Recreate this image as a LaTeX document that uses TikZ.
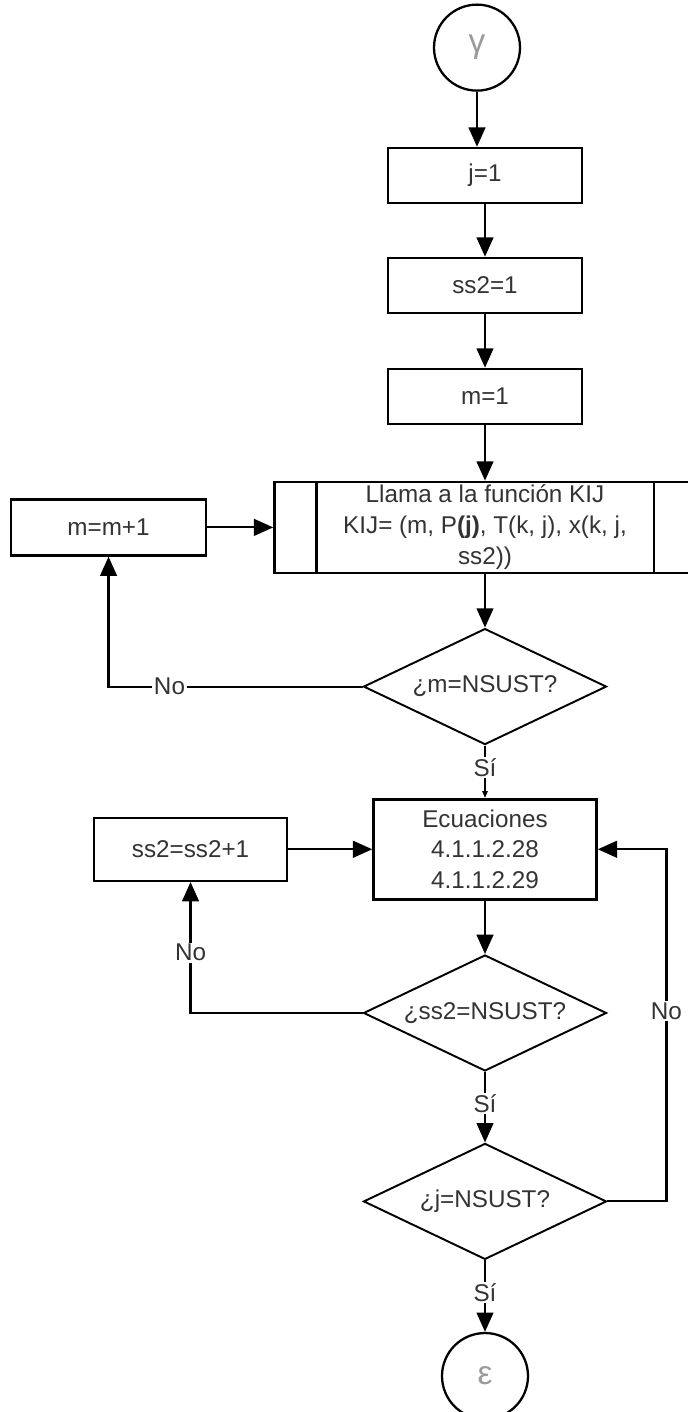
\documentclass[tikz,border=0pt]{standalone}
\usepackage{fontspec}
\setmainfont{Liberation Sans}
\usetikzlibrary{arrows.meta,positioning,shapes.geometric,calc}
\definecolor{txtgray}{HTML}{333333}
\definecolor{symgray}{HTML}{9A9A9A}

\begin{document}
\begin{tikzpicture}[
  font=\fontsize{13.8}{17.6}\selectfont,
  proc/.style={draw, line width=1.4pt, minimum width=3.88cm, minimum height=1.1cm, align=center, text=txtgray, inner sep=2pt},
  decis/.style={draw, diamond, aspect=2.1, line width=1.1pt, minimum width=4.86cm, minimum height=2.32cm, inner sep=0pt, text=txtgray},
  conn/.style={draw, circle, line width=1.3pt, minimum size=1.72cm, inner sep=0pt, text=symgray, font=\fontsize{19}{19}\selectfont},
  lbl/.style={fill=white, inner sep=1pt, text=txtgray},
  arr/.style={-{Triangle[length=11pt, width=9.5pt]}, line width=1.2pt},
  smallarr/.style={-{Triangle[length=4pt, width=3pt]}, line width=1.2pt}
]
  \useasboundingbox (0,0) rectangle (13.74,-28.24);

  % main column
  \node[proc] (j1) at (9.70,-3.51) {j=1};
  \node[conn, above=1.1cm of j1, xshift=-0.16cm] (yc) {γ};
  \node[proc, below=1.05cm of j1] (ss1) {ss2=1};
  \node[proc, below=1.07cm of ss1] (m1) {m=1};
  \node[proc, below=1.11cm of m1, minimum width=8.42cm, minimum height=1.82cm, inner ysep=0pt] (kij)
    {Llama a la función KIJ\\KIJ= (m, P\textbf{(j)}, T(k, j), x(k, j,\\ss2))};
  \draw[line width=1.4pt] ([xshift=0.86cm]kij.north west) -- ([xshift=0.86cm]kij.south west);
  \draw[line width=1.4pt] ([xshift=-0.86cm]kij.north east) -- ([xshift=-0.86cm]kij.south east);
  \node[decis, below=1.07cm of kij] (d1) {¿m=NSUST?};
  \node[proc, below=1.05cm of d1, minimum width=4.46cm, minimum height=2.0cm, inner ysep=5pt] (ecu)
    {Ecuaciones\\4.1.1.2.28\\4.1.1.2.29};
  \node[decis, below=1.07cm of ecu] (d2) {¿ss2=NSUST?};
  \node[decis, below=1.41cm of d2] (d3) {¿j=NSUST?};
  \node[conn, below=1.43cm of d3] (ec) {ε};

  % counters on the left
  \node[proc, left=1.32cm of kij, minimum width=3.9cm, minimum height=1.12cm] (mm) {m=m+1};
  \node[proc, left=1.68cm of ecu, minimum width=3.86cm, minimum height=1.26cm] (ssp) {ss2=ss2+1};

  % flow
  \draw[arr] (yc.south) -- (yc.south |- j1.north);
  \draw[arr] (j1) -- (ss1);
  \draw[arr] (ss1) -- (m1);
  \draw[arr] (m1) -- (kij);
  \draw[arr] (kij) -- (d1);
  \draw[arr] (mm) -- (kij);
  \draw[arr] (d1.west) -| node[lbl, pos=0.38] {No} (mm.south);
  \draw[smallarr] (d1) -- node[lbl, pos=0.42] {Sí} (ecu);
  \draw[arr] (ssp) -- (ecu);
  \draw[arr] (ecu) -- (d2);
  \draw[arr] (d2.west) -| node[lbl, pos=0.73] {No} (ssp.south);
  \draw[arr] (d2) -- node[lbl, pos=0.45] {Sí} (d3);
  \draw[arr] (d3.east) -- ++(1.18,0) |- node[lbl, pos=0.27] {No} (ecu.east);
  \draw[arr] (d3) -- node[lbl, pos=0.45] {Sí} (ec);
\end{tikzpicture}
\end{document}
